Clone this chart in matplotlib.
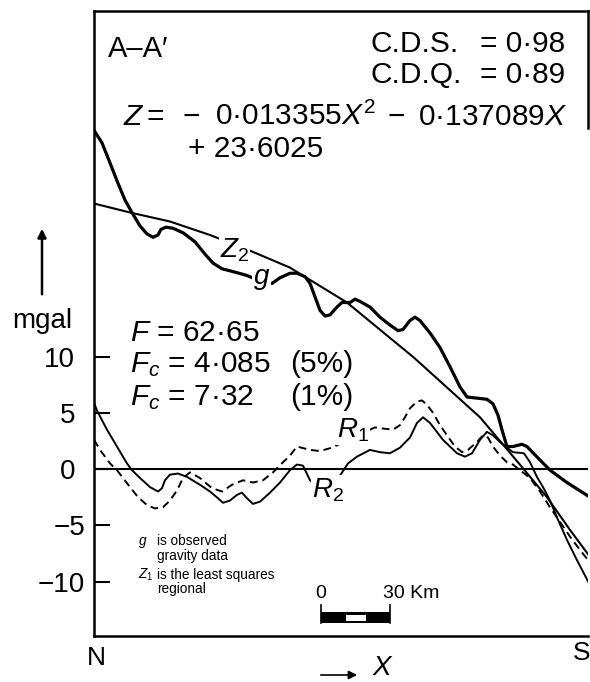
import numpy as np
import matplotlib
matplotlib.use("Agg")
import matplotlib.pyplot as plt
import matplotlib.transforms as mtransforms
from matplotlib.patches import Rectangle, FancyArrowPatch

plt.rcParams['font.family'] = ['Liberation Sans', 'DejaVu Sans']
plt.rcParams['mathtext.fontset'] = 'custom'
plt.rcParams['mathtext.rm'] = 'Liberation Sans'
plt.rcParams['mathtext.it'] = 'Liberation Sans:italic'
plt.rcParams['mathtext.bf'] = 'Liberation Sans:bold'

# --------------------------------------------------
# data (X in equation units, Z in mgal)
# --------------------------------------------------
x_g = [0.0, 0.70, 1.41, 2.11, 2.73, 3.34, 4.05, 4.66, 5.19, 5.63, 5.89, 6.33, 6.95,
       7.83, 8.88, 9.76, 10.47, 11.26, 12.40, 13.46, 14.60, 15.66, 16.36, 17.24,
       17.85, 18.56, 19.00, 19.44, 19.88, 20.32, 20.76, 21.37, 21.81, 22.52, 22.96,
       23.39, 24.27, 25.15, 26.03, 26.74, 27.18, 27.79, 28.23, 28.67, 29.55, 30.43,
       31.31, 32.19, 32.81, 33.69, 34.56, 35.09, 35.53, 35.88, 36.32, 36.85, 37.64,
       38.08, 39.23, 40.11, 41.60, 43.62]
g_obs = [30.1, 29.0, 27.2, 25.4, 23.9, 22.8, 21.6, 20.9, 20.6, 20.8, 21.3, 21.5, 21.4,
         21.0, 20.2, 19.1, 18.3, 17.8, 17.5, 17.2, 16.7, 16.5, 17.0, 17.4,
         17.4, 17.1, 16.5, 15.3, 14.1, 13.6, 13.7, 14.4, 14.8, 14.8, 15.1,
         14.9, 14.4, 13.5, 12.8, 12.3, 12.4, 13.2, 13.5, 13.2, 12.1, 10.8,
         9.1, 7.3, 6.4, 6.3, 6.2, 5.8, 4.8, 3.5, 2.0, 2.0, 2.2,
         2.0, 0.8, -0.1, -1.2, -2.5]

x_z2 = [0.0, 3.17, 6.68, 10.20, 13.98, 17.24, 22.25, 28.14, 33.95, 37.29, 39.84, 41.86, 43.62]
z2_reg = [23.6, 22.8, 22.0, 20.8, 19.3, 17.9, 14.8, 9.9, 4.6, 0.6, -2.5, -5.4, -7.8]

x_r2 = [0.0, 0.26, 1.14, 2.02, 2.90, 3.34, 4.05, 4.92, 5.63, 5.98, 6.24, 6.68, 7.39,
        8.18, 9.32, 10.20, 10.91, 11.35, 11.96, 12.57, 13.01, 13.46, 13.98, 14.60,
        15.48, 16.36, 17.24, 17.85, 18.38, 19.00, 20.05, 21.37, 22.34, 23.13, 24.27,
        25.15, 26.03, 26.91, 27.79, 28.41, 28.94, 29.55, 30.69, 31.93, 32.63, 33.25,
        33.95, 34.56, 35.09, 35.71, 36.32, 36.85, 37.82, 38.35, 38.96, 39.49, 40.11,
        40.72, 41.60, 42.48, 43.62]
r2 = [5.9, 5.2, 3.5, 2.0, 0.5, -0.1, -0.8, -1.6, -2.0, -1.7, -1.0, -0.5, -0.4,
      -0.7, -1.4, -2.0, -2.6, -3.0, -2.8, -2.3, -2.1, -2.6, -3.1, -2.9,
      -2.1, -1.2, -0.1, 0.4, 0.3, -1.0, -2.0, -1.0, 0.5, 1.1, 1.7,
      1.5, 1.4, 1.9, 2.8, 4.1, 4.6, 4.1, 2.6, 1.4, 1.1, 1.4,
      2.6, 3.3, 3.0, 2.4, 1.9, 1.5, 1.4, 0.6, -0.7, -1.6, -2.8,
      -4.3, -6.3, -8.1, -10.3]

x_r1 = [0.0, 0.53, 1.41, 2.02, 2.55, 3.17, 3.87, 4.66, 5.36, 6.07, 6.68, 7.30, 7.83,
        8.44, 9.32, 10.38, 11.26, 12.14, 13.10, 13.98, 14.86, 15.74, 16.62, 17.24,
        17.85, 19.00, 19.88, 20.93, 22.80, 24.71, 25.42, 26.30, 26.91, 27.35, 27.79,
        28.41, 28.85, 29.29, 29.82, 30.43, 31.05, 31.75, 32.37, 32.89, 33.69, 34.21,
        34.65, 35.09, 35.71, 36.32, 36.85, 37.47, 38.35, 39.23, 40.11, 40.99, 41.86,
        42.75, 43.62]
r1 = [2.6, 1.7, 0.5, -0.1, -0.8, -1.6, -2.5, -3.2, -3.5, -3.4, -2.8, -1.9, -0.8,
      -0.3, -0.8, -1.7, -2.0, -1.4, -1.0, -1.2, -1.0, -0.3, 0.6, 1.2,
      2.0, 1.7, 1.6, 1.9, 2.8, 3.7, 3.6, 3.5, 3.9, 4.6, 5.4,
      6.0, 6.1, 5.7, 5.0, 3.9, 3.0, 2.0, 1.5, 1.7, 2.4, 3.0,
      2.8, 2.0, 1.2, 0.6, 0.4, -0.1, -0.8, -2.0, -3.4, -4.7, -6.0,
      -7.2, -8.3]

yticks = [-10, -5, 0, 5, 10]
scale_km = 30
km_per_unit = 5

# --------------------------------------------------
# plot
# --------------------------------------------------
fig = plt.figure(figsize=(5.9, 6.82), dpi=100, facecolor='white')
ax = fig.add_axes([94/590, 1-636/682, (588-94)/590, (636-11)/682])
ax.set_xlim(0, 43.45)
ax.set_ylim(-14.84, 40.71)

ax.axhline(0, color='black', lw=1.5)
ax.plot(x_z2, z2_reg, color='black', lw=1.5)
ax.plot(x_g, g_obs, color='black', lw=2.3)
ax.plot(x_r2, r2, color='black', lw=1.4)
ax.plot(x_r1, r1, color='black', lw=1.4, ls=(0, (4, 2.5)))

# curve labels
lab = dict(fontsize=20, ha='left', va='baseline',
           bbox=dict(facecolor='white', edgecolor='none', pad=0.5))
ax.text(11.08, 18.84, r'$Z_2$', **lab)
ax.text(13.98, 16.44, r'$g$', **lab)
ax.text(21.37, 2.76, r'$R_1$', **lab)
ax.text(19.17, -2.49, r'$R_2$', **lab)

# axes frame
for s in ['left', 'top', 'bottom', 'right']:
    ax.spines[s].set_linewidth(1.8)
ax.spines['right'].set_bounds(30.3, 40.71)
ax.set_xticks([])
ax.set_yticks(yticks)
ax.set_yticklabels([f"{v}".replace('-', '\u2212') for v in yticks])
ax.tick_params(axis='y', direction='in', length=11.5, width=1.5,
               labelsize=20, pad=13.5)
shift = mtransforms.ScaledTranslation(0.10, 0, fig.dpi_scale_trans)
for v, tl in zip(yticks, ax.get_yticklabels()):
    if v < 0:
        tl.set_transform(tl.get_transform() + shift)

# scale bar
x0 = 20.0
L = scale_km / km_per_unit
ax.add_patch(Rectangle((x0, -13.69), L, 0.98, color='black', lw=0))
ax.add_patch(Rectangle((x0 + 2.16, -13.51), 1.76, 0.53, color='white', lw=0))
ax.plot([x0, x0], [-13.69, -12.09], color='black', lw=1.2)
ax.plot([x0 + L, x0 + L], [-13.69, -12.09], color='black', lw=1.2)
ax.text(x0 - 0.1, -11.47, "0", fontsize=14, ha='center', va='baseline')
ax.text(x0 + L - 0.6, -11.47, f"{scale_km} Km", fontsize=14, ha='left', va='baseline')

# annotations
def ft(px, py, s, **kw):
    fig.text(px/590, 1 - py/682, s, va='baseline', **kw)

big = 21.5
ft(108, 57, "A\u2013A\u2032", fontsize=21)
ft(370, 52, "C.D.S.", fontsize=big)
ft(370, 83, "C.D.Q.", fontsize=big)
ft(480, 52, "= 0\u00b798", fontsize=big)
ft(480, 83, "= 0\u00b789", fontsize=big)

# regression equation, piece by piece
ft(123, 125, "$Z$", fontsize=big)
ft(147, 125, "=", fontsize=big)
ft(183, 125, "\u2212", fontsize=big)
ft(215, 125, "0\u00b7013355$X^2$", fontsize=big)
ft(388, 125, "\u2212", fontsize=big)
ft(418, 125, "0\u00b7137089$X$", fontsize=big)
ft(188, 157, "+ 23\u00b76025", fontsize=big)

ft(130, 341, "$F$ = 62\u00b765", fontsize=big)
ft(130, 372, "$F_c$ = 4\u00b7085", fontsize=big)
ft(290, 372, "(5%)", fontsize=big)
ft(130, 405, "$F_c$ = 7\u00b732", fontsize=big)
ft(290, 405, "(1%)", fontsize=big)

ft(42, 328, "mgal", fontsize=20, ha='center')
fig.add_artist(FancyArrowPatch(
    (42/590, 1-297/682), (42/590, 1-226/682), transform=fig.transFigure,
    arrowstyle='-|>,head_length=5,head_width=2.5', color='black', lw=1.8))

ft(87, 665, "N", fontsize=19)
ft(573, 660, "S", fontsize=19)
fig.add_artist(FancyArrowPatch(
    (318/590, 1-675/682), (360/590, 1-675/682), transform=fig.transFigure,
    arrowstyle='-|>,head_length=5,head_width=2.5', color='black', lw=1.2))
ft(373, 675, "X", fontsize=20, fontstyle='italic')

leg = dict(fontsize=9.8)
ft(138, 545, "$g$", **leg)
ft(157, 545, "is observed", **leg)
ft(157, 560, "gravity data", **leg)
ft(138, 579, "$Z_1$", **leg)
ft(157, 579, "is the least squares", **leg)
ft(157, 593, "regional", **leg)

fig.savefig("out.png", dpi=100, facecolor='white')
